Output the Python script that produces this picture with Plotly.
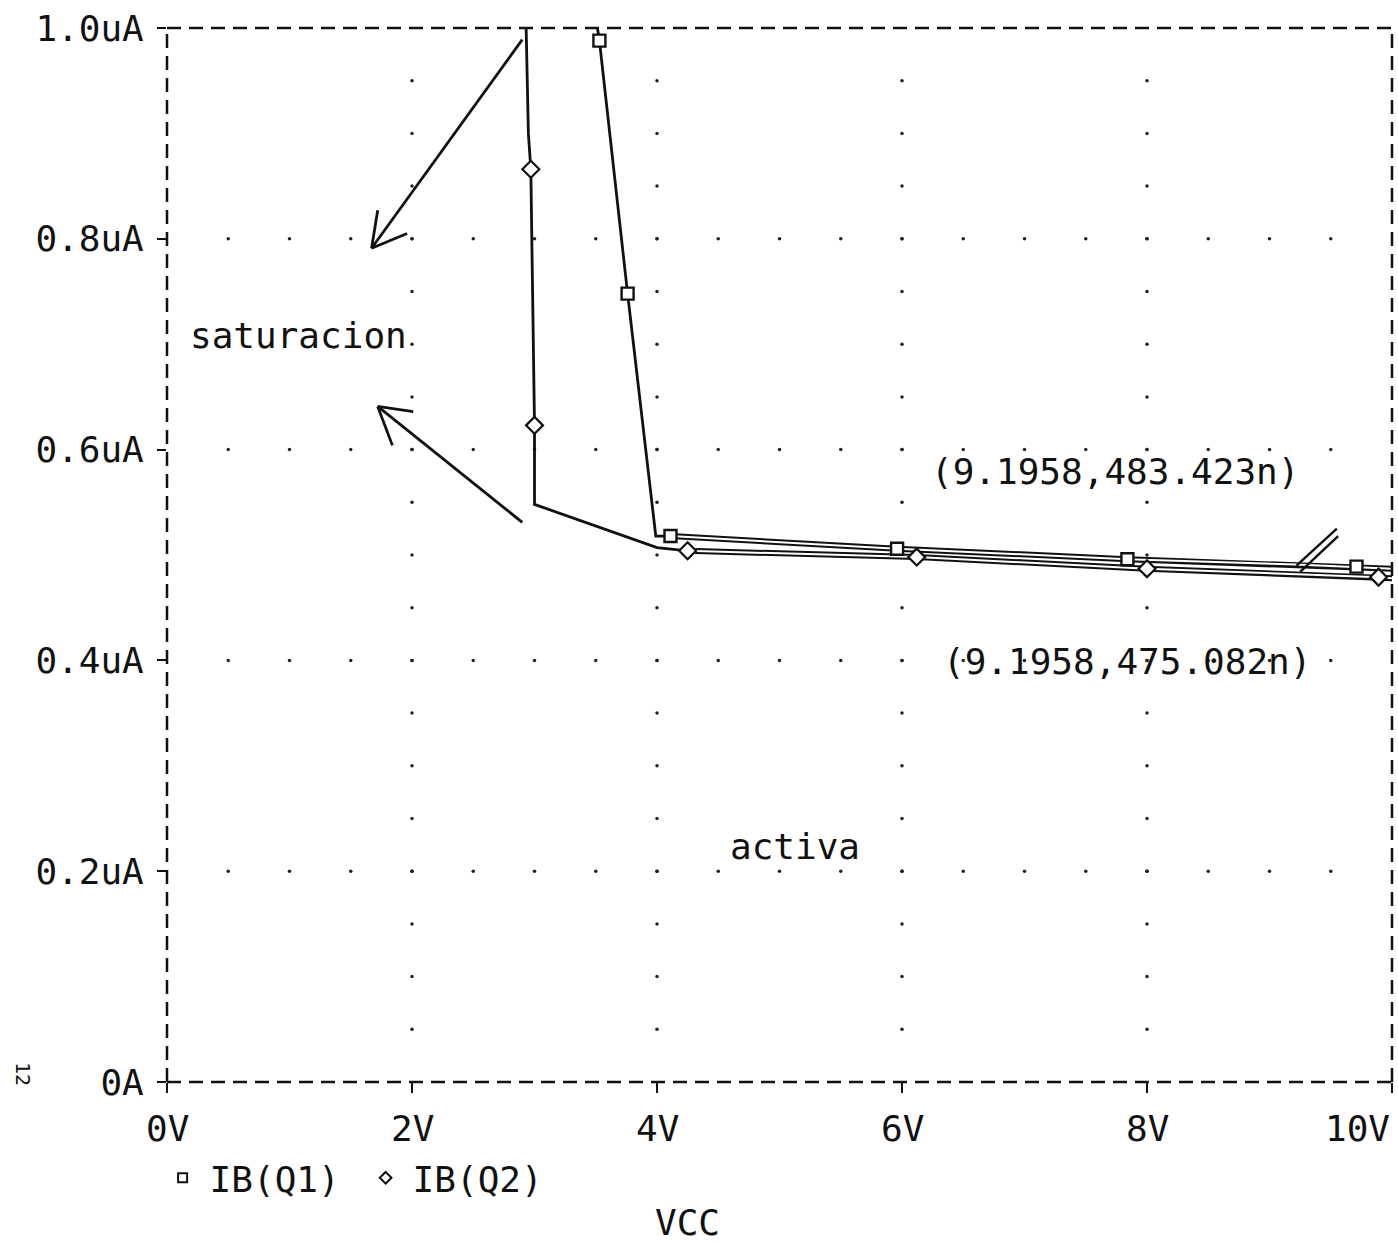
import numpy as np
import plotly.graph_objects as go

# ---------------- data ----------------
# x values in volts (VCC), y values in microamps
q1_line_v = [3.50, 3.53, 3.76, 3.99, 4.11, 5.96, 7.84, 9.22, 10.0]
q1_line_i = [1.01, 0.988, 0.748, 0.518, 0.518, 0.506, 0.496, 0.491, 0.487]
q1_mark_v = [3.53, 3.76, 4.11, 5.96, 7.84, 9.71]
q1_mark_i = [0.988, 0.748, 0.518, 0.506, 0.496, 0.489]

q2_line_v = [2.93, 2.95, 2.97, 3.00, 3.00, 4.00, 4.25, 6.12, 8.00, 9.22, 9.89, 10.0]
q2_line_i = [1.01, 0.90, 0.866, 0.623, 0.548, 0.507, 0.504, 0.498, 0.487, 0.482, 0.479, 0.478]
q2_mark_v = [2.97, 3.00, 4.25, 6.12, 8.00, 9.89]
q2_mark_i = [0.866, 0.623, 0.504, 0.498, 0.487, 0.479]

x_tick_vals = [0, 2, 4, 6, 8, 10]
x_tick_text = ["0V", "2V", "4V", "6V", "8V", "10V"]
y_tick_vals = [0, 0.2, 0.4, 0.6, 0.8, 1.0]
y_tick_text = ["0A", "0.2uA", "0.4uA", "0.6uA", "0.8uA", "1.0uA"]

series_names = ["IB(Q1)", "IB(Q2)"]

# dotted grid definition
grid_row_levels = [0.2, 0.4, 0.6, 0.8]
grid_col_levels = [2, 4, 6, 8]
grid_x_step = 0.5
grid_y_step = 0.05

# hand-drawn annotations (data coordinates)
arrow1 = dict(tail=(2.90, 0.989), head=(1.67, 0.791), barbs=[(1.72, 0.827), (1.96, 0.805)])
arrow2 = dict(tail=(2.90, 0.531), head=(1.72, 0.641), barbs=[(2.01, 0.636), (1.84, 0.604)])
cursor_marks = [((9.22, 0.490), (9.55, 0.525)), ((9.25, 0.484), (9.56, 0.518))]

labels = [
    ("saturacion", 1.07, 0.708),
    ("activa", 5.13, 0.223),
    ("(9.1958,483.423n)", 7.74, 0.579),
    ("(9.1958,475.082n)", 7.84, 0.399),
]

FONT = "DejaVu Sans Mono"
FS = 36
INK = "#111111"

fig = go.Figure()

# grid dots
gx, gy = [], []
for lvl in grid_row_levels:
    for v in np.arange(grid_x_step, 10, grid_x_step):
        gx.append(float(v)); gy.append(lvl)
for c in grid_col_levels:
    for i in np.arange(grid_y_step, 1.0 - 1e-9, grid_y_step):
        gx.append(c); gy.append(float(i))
fig.add_trace(go.Scatter(x=gx, y=gy, mode="markers",
                         marker=dict(size=3.5, color="#222222"),
                         showlegend=False, hoverinfo="skip"))

# main lines
for v, i in [(q1_line_v, q1_line_i), (q2_line_v, q2_line_i)]:
    fig.add_trace(go.Scatter(x=v, y=i, mode="lines",
                             line=dict(color=INK, width=2.8),
                             showlegend=False))

# outlined (double-line) look on the flat part
for v, i, start in [(q1_line_v, q1_line_i, 4.11), (q2_line_v, q2_line_i, 4.25)]:
    vv = [a for a in v if a >= start]
    ii = [b for a, b in zip(v, i) if a >= start]
    fig.add_trace(go.Scatter(x=vv, y=ii, mode="lines",
                             line=dict(color=INK, width=6),
                             showlegend=False, hoverinfo="skip"))
    fig.add_trace(go.Scatter(x=vv, y=ii, mode="lines",
                             line=dict(color="white", width=2),
                             showlegend=False, hoverinfo="skip"))

# markers
fig.add_trace(go.Scatter(x=q1_mark_v, y=q1_mark_i, mode="markers",
                         marker=dict(symbol="square", size=12, color="white",
                                     line=dict(color=INK, width=2.4)),
                         showlegend=False))
fig.add_trace(go.Scatter(x=q2_mark_v, y=q2_mark_i, mode="markers",
                         marker=dict(symbol="diamond", size=13, color="white",
                                     line=dict(color=INK, width=2.2)),
                         showlegend=False))

# legend entries
fig.add_trace(go.Scatter(x=[None], y=[None], mode="markers", name=series_names[0],
                         marker=dict(symbol="square", size=9, color="white",
                                     line=dict(color=INK, width=2))))
fig.add_trace(go.Scatter(x=[None], y=[None], mode="markers", name=series_names[1],
                         marker=dict(symbol="diamond", size=9, color="white",
                                     line=dict(color=INK, width=2))))

shapes = []
# dashed frame
dash = "14px,8px"
for (x0, y0, x1, y1) in [(0, 1, 1, 1), (0, 0, 1, 0), (0, 0, 0, 1), (1, 0, 1, 1)]:
    shapes.append(dict(type="line", xref="x domain", yref="y domain",
                       x0=x0, y0=y0, x1=x1, y1=y1,
                       line=dict(color=INK, width=2.5, dash=dash)))
# arrows
for a in [arrow1, arrow2]:
    (tx, ty), (hx, hy) = a["tail"], a["head"]
    shapes.append(dict(type="line", xref="x", yref="y", x0=tx, y0=ty, x1=hx, y1=hy,
                       line=dict(color=INK, width=2.8)))
    for bx, by in a["barbs"]:
        shapes.append(dict(type="line", xref="x", yref="y", x0=hx, y0=hy, x1=bx, y1=by,
                           line=dict(color=INK, width=2.8)))
# cursor marks
for (p0, p1) in cursor_marks:
    shapes.append(dict(type="line", xref="x", yref="y", x0=p0[0], y0=p0[1],
                       x1=p1[0], y1=p1[1], line=dict(color=INK, width=2.4)))

annotations = []
for txt, x, y in labels:
    annotations.append(dict(text=txt, x=x, y=y, xref="x", yref="y", showarrow=False,
                            font=dict(family=FONT, size=FS, color=INK)))
# x tick labels
for v, t in zip(x_tick_vals, x_tick_text):
    annotations.append(dict(text=t, x=v, y=0, xref="x", yref="paper", showarrow=False,
                            xanchor="right" if v == 10 else "center", yanchor="top",
                            yshift=-24, font=dict(family=FONT, size=FS, color=INK)))
# x axis title
annotations.append(dict(text="VCC", x=0.4253, y=0, xref="paper", yref="paper",
                        showarrow=False, yanchor="middle", yshift=-140,
                        font=dict(family=FONT, size=FS, color=INK)))
# page number scan mark
annotations.append(dict(text="12", x=0, y=0, xref="paper", yref="paper",
                        showarrow=False, textangle=90, xshift=-158, yshift=-6,
                        font=dict(family=FONT, size=20, color=INK)))

fig.update_layout(
    width=1398, height=1243,
    margin=dict(l=167, r=6, t=28, b=161),
    paper_bgcolor="white", plot_bgcolor="white",
    font=dict(family=FONT, size=FS, color=INK),
    xaxis=dict(range=[0, 10], tickvals=x_tick_vals, showticklabels=False,
               ticks="outside", ticklen=10, tickwidth=2, tickcolor=INK,
               showgrid=False, zeroline=False, showline=False, fixedrange=True),
    yaxis=dict(range=[0, 1.0], tickvals=y_tick_vals, ticktext=y_tick_text,
               ticks="outside", ticklen=9, tickwidth=2, tickcolor=INK,
               ticklabelstandoff=6,
               showgrid=False, zeroline=False, showline=False, fixedrange=True),
    legend=dict(orientation="h", x=-0.0093, xanchor="left", y=-0.091, yanchor="middle",
                font=dict(family=FONT, size=FS, color=INK),
                bgcolor="rgba(0,0,0,0)", itemsizing="trace", itemwidth=44,
                entrywidth=144, entrywidthmode="pixels"),
    shapes=shapes,
    annotations=annotations,
    showlegend=True,
)

fig.write_html("out.html")
